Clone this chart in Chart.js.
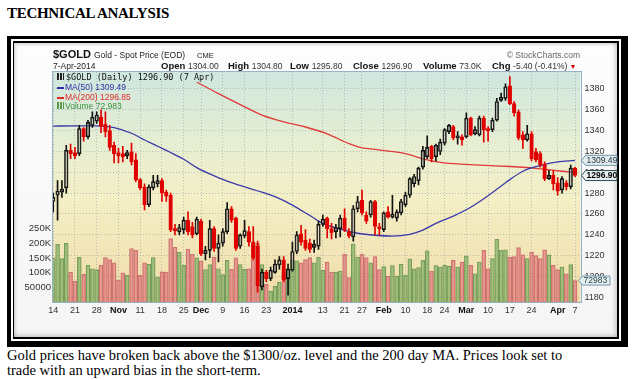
<!DOCTYPE html>
<html><head><meta charset="utf-8">
<script src="https://cdn.jsdelivr.net/npm/chart.js@4.4.1/dist/chart.umd.min.js"></script>
<style>
html,body{margin:0;padding:0;background:#fff;}
body{width:635px;height:380px;position:relative;overflow:hidden;font-family:"Liberation Sans",Arial,sans-serif;}
.abs{position:absolute;white-space:nowrap;line-height:1;}
#title{left:7px;top:5px;font:bold 15px "Liberation Serif",serif;letter-spacing:-0.3px;color:#000;}
.fr{position:absolute;}
#f1{left:7px;top:36px;width:621px;height:311px;background:#000;}
#f2{left:11px;top:39px;width:610px;height:302px;background:#fff;}
#f3{left:13px;top:41px;width:606px;height:298px;background:#000;}
#f4{left:14px;top:43px;width:603px;height:294px;background:linear-gradient(#fdfdfd,#f5f5f5);box-shadow:inset -2px -2px 4px rgba(0,0,0,0.18), inset 2px 2px 3px rgba(0,0,0,0.12);}
canvas{position:absolute;left:0;top:0;z-index:1;}
.ov{z-index:2;}
.cap{left:7px;font-size:14.5px;font-family:"Liberation Serif",serif;color:#000;}
.row{font-size:9.5px;top:61px;}
.lb{font-weight:bold;font-size:9.5px;color:#111;}
.vl{font-size:8.5px;color:#333;}
</style>
</head><body>
<div id="title" class="abs">TECHNICAL ANALYSIS</div>
<div id="f1" class="fr"></div><div id="f2" class="fr"></div><div id="f3" class="fr"></div><div id="f4" class="fr"></div>
<canvas id="c" width="635" height="380"></canvas>

<div class="abs ov" style="left:53px;top:48.5px;font-weight:bold;font-size:11px;color:#111">$GOLD</div>
<div class="abs ov" style="left:94px;top:50.5px;font-size:8.5px;color:#222">Gold - Spot Price (EOD)</div>
<div class="abs ov" style="left:197px;top:51.5px;font-size:7.5px;color:#222">CME</div>
<div class="abs ov" style="right:55px;top:51px;font-size:8.5px;color:#666">© StockCharts.com</div>
<div class="abs ov" style="left:53px;top:61.5px;font-size:8.5px;color:#222">7-Apr-2014</div>
<div class="abs ov row" style="left:161px"><span class="lb">Open</span> <span class="vl">1304.00</span></div>
<div class="abs ov row" style="left:228px"><span class="lb">High</span> <span class="vl">1304.80</span></div>
<div class="abs ov row" style="left:290px"><span class="lb">Low</span> <span class="vl">1295.80</span></div>
<div class="abs ov row" style="left:353px"><span class="lb">Close</span> <span class="vl">1296.90</span></div>
<div class="abs ov row" style="left:423px"><span class="lb">Volume</span> <span class="vl">73.0K</span></div>
<div class="abs ov row" style="left:492px"><span class="lb">Chg</span> <span class="vl">-5.40 (-0.41%)</span><span style="font-size:7px;color:#d00000"> ▼</span></div>

<div class="abs ov" style="left:57px;top:73px;font-size:8.5px;font-family:'DejaVu Sans Mono',monospace;color:#111"><span style="display:inline-block;width:7px;height:7px;margin-right:2px;background:linear-gradient(90deg,#222 0 2px,transparent 2px 3px,#222 3px 5px,transparent 5px 6px,#222 6px 7px);"></span>$GOLD (Daily) 1296.90 (7 Apr)</div>
<div class="abs ov" style="left:57px;top:83px;font-size:8.5px;color:#2f2fa8"><span style="display:inline-block;width:7px;height:2px;background:#2f2fa8;vertical-align:middle;margin-right:1px"></span>MA(50) 1309.49</div>
<div class="abs ov" style="left:57px;top:93px;font-size:8.5px;color:#e02a2a"><span style="display:inline-block;width:7px;height:2px;background:#e02a2a;vertical-align:middle;margin-right:1px"></span>MA(200) 1296.85</div>
<div class="abs ov" style="left:57px;top:102px;font-size:8.5px;color:#3f8f3f"><span style="display:inline-block;width:7px;height:7px;margin-right:1px;background:linear-gradient(90deg,#5a9a4a 0 2px,transparent 2px 3px,#5a9a4a 3px 5px,transparent 5px 6px,#5a9a4a 6px 7px);"></span>Volume 72,983</div>

<div class="abs cap" style="top:348px">Gold prices have broken back above the $1300/oz. level and the 200 day MA. Prices look set to</div>
<div class="abs cap" style="top:363px">trade with an upward bias in the short-term.</div>

<script>
const dates = ['Oct 14','Oct 15','Oct 16','Oct 17','Oct 18','Oct 21','Oct 22','Oct 23','Oct 24','Oct 25','Oct 28','Oct 29','Oct 30','Oct 31',
'Nov 1','Nov 4','Nov 5','Nov 6','Nov 7','Nov 8','Nov 11','Nov 12','Nov 13','Nov 14','Nov 15','Nov 18','Nov 19','Nov 20','Nov 21','Nov 22','Nov 25','Nov 26','Nov 27','Nov 29',
'Dec 2','Dec 3','Dec 4','Dec 5','Dec 6','Dec 9','Dec 10','Dec 11','Dec 12','Dec 13','Dec 16','Dec 17','Dec 18','Dec 19','Dec 20','Dec 23','Dec 24','Dec 26','Dec 27','Dec 30','Dec 31',
'Jan 2','Jan 3','Jan 6','Jan 7','Jan 8','Jan 9','Jan 10','Jan 13','Jan 14','Jan 15','Jan 16','Jan 17','Jan 21','Jan 22','Jan 23','Jan 24','Jan 27','Jan 28','Jan 29','Jan 30','Jan 31',
'Feb 3','Feb 4','Feb 5','Feb 6','Feb 7','Feb 10','Feb 11','Feb 12','Feb 13','Feb 14','Feb 18','Feb 19','Feb 20','Feb 21','Feb 24','Feb 25','Feb 26','Feb 27','Feb 28',
'Mar 3','Mar 4','Mar 5','Mar 6','Mar 7','Mar 10','Mar 11','Mar 12','Mar 13','Mar 14','Mar 17','Mar 18','Mar 19','Mar 20','Mar 21','Mar 24','Mar 25','Mar 26','Mar 27','Mar 28','Mar 31',
'Apr 1','Apr 2','Apr 3','Apr 4','Apr 7'];

const opens = [
1272,1278,1281,1285,1321,1319,1318,1342,1334,1345,
1349,1353,1346,1340,1326,1319,1318,1316,1320,1312,
1293,1286,1269,1285,1289,1292,1281,1278,1246,1243,
1245,1254,1248,1241,1253,1222,1225,1246,1227,1232,
1243,1265,1256,1229,1239,1243,1233,1229,1190,1204,
1198,1204,1211,1216,1198,1206,1224,1241,1235,1232,
1228,1229,1250,1256,1246,1243,1246,1256,1243,1238,
1265,1273,1259,1259,1272,1248,1245,1262,1257,1256,
1261,1269,1278,1289,1292,1305,1315,1325,1315,1320,
1328,1339,1344,1333,1334,1334,1352,1337,1336,1352,
1342,1341,1350,1369,1371,1383,1366,1358,1336,1331,
1337,1320,1318,1308,1294,1297,1290,1283,1290,1286,
1304];
const highs = [
1280,1292,1292,1326,1327,1324,1345,1343,1350,1358,
1358,1360,1358,1345,1329,1323,1325,1321,1328,1318,
1294,1289,1288,1297,1297,1294,1283,1280,1250,1250,
1257,1262,1252,1257,1255,1229,1254,1248,1240,1246,
1271,1267,1257,1241,1254,1248,1248,1234,1207,1206,
1209,1216,1219,1219,1212,1233,1243,1249,1245,1236,
1235,1253,1259,1257,1251,1250,1259,1265,1246,1268,
1277,1283,1262,1273,1273,1251,1262,1267,1278,1264,
1274,1281,1295,1298,1305,1325,1335,1326,1327,1332,
1342,1346,1345,1339,1336,1357,1353,1344,1354,1354,
1344,1352,1371,1376,1385,1392,1368,1360,1339,1345,
1339,1323,1320,1310,1302,1302,1295,1296,1292,1307,
1304.8];
const lows = [
1262,1254,1276,1280,1313,1313,1316,1330,1332,1343,
1347,1338,1334,1321,1309,1309,1310,1313,1307,1291,
1283,1264,1267,1283,1286,1272,1272,1243,1240,1240,
1241,1240,1237,1240,1220,1216,1218,1224,1214,1229,
1241,1252,1225,1227,1237,1229,1216,1185,1187,1195,
1196,1203,1207,1195,1182,1205,1222,1230,1225,1223,
1223,1226,1248,1237,1236,1237,1238,1243,1237,1234,
1262,1259,1251,1257,1240,1240,1243,1256,1256,1253,
1259,1267,1276,1286,1288,1303,1313,1310,1311,1317,
1326,1337,1331,1327,1326,1333,1335,1336,1335,1329,
1330,1339,1349,1368,1369,1365,1354,1331,1323,1330,
1311,1310,1305,1292,1293,1283,1278,1280,1283,1284,
1295.8];
const closes = [
1276,1282,1284,1321,1318,1316,1342,1334,1348,1353,
1355,1344,1339,1324,1318,1316,1315,1319,1310,1293,
1285,1269,1286,1291,1292,1280,1277,1245,1244,1247,
1254,1243,1240,1255,1222,1225,1246,1227,1232,1243,
1265,1254,1227,1240,1244,1233,1218,1191,1204,1198,
1206,1212,1216,1197,1207,1224,1240,1233,1227,1226,
1231,1250,1255,1246,1242,1247,1256,1245,1239,1265,
1272,1261,1253,1272,1248,1246,1261,1257,1260,1262,
1272,1278,1294,1296,1304,1321,1324,1313,1326,1329,
1341,1345,1333,1335,1331,1352,1336,1341,1352,1341,
1340,1350,1368,1372,1382,1366,1357,1333,1331,1337,
1313,1312,1307,1294,1297,1289,1282,1294,1286,1304,
1296.9];
const volumes = [
150000,196000,148000,200000,102000,71000,152000,94000,125000,113000,
110000,125000,151000,144000,133000,74000,99000,91000,182000,176000,
91000,133000,128000,151000,85000,103000,102000,216000,187000,170000,
125000,180000,162000,150000,140000,110000,127000,153000,113000,93000,
142000,111000,150000,127000,111000,113000,193000,200000,127000,60000,
37000,53000,68000,100000,113000,142000,140000,133000,144000,151000,
133000,153000,108000,136000,102000,102000,105000,162000,83000,198000,
153000,162000,151000,133000,155000,110000,121000,88000,124000,88000,
128000,91000,147000,113000,117000,142000,174000,105000,124000,119000,
125000,122000,142000,119000,136000,156000,125000,96000,136000,176000,
113000,148000,213000,176000,178000,153000,155000,185000,161000,148000,
170000,158000,148000,178000,161000,125000,110000,119000,96000,127000,
72983];

const ma50Idx = [0,5,10,14,18,21,24,27,30,33,36,40,44,48,51,55,59,62,66,70,74,78,82,85,88,92,96,100,104,108,112,116,120];
const ma50 = [1344.4,1344.5,1344.5,1343,1337.5,1331,1325,1319,1312.5,1304.5,1298.5,1291.5,1286,1281,1276.6,1268.5,1258.5,1251,1245.5,1241.5,1239.6,1238.8,1240.5,1244.5,1251,1258,1266.5,1277.5,1290,1301,1306.5,1310,1311.5];
const ma200Idx = [33,38,43,48,53,58,63,68,71,74,77,81,85,89,95,103,111,116,120];
const ma200 = [1386.5,1375.5,1365,1355,1348.5,1343.5,1337,1327.5,1323.5,1322,1320.4,1318,1313,1309.6,1307.6,1306,1303.8,1301.5,1300];

const xTickIdx = [0,5,10,15,20,25,30,34,39,44,49,55,62,67,71,76,81,86,90,95,100,105,110,116,120];
const xTickLabels = ['14','21','28','Nov','11','18','25','Dec','9','16','23','2014','13','21','27','Feb','10','18','24','Mar','10','17','24','Apr','7'];
const priceTicks = [1180,1200,1220,1240,1260,1280,1300,1320,1340,1360,1380];
const volTicks = [50000,100000,150000,200000,250000];
const volTickLabels = ['50000','100K','150K','200K','250K'];
const tagLabels = ['1309.49','1296.90','72983'];

Chart.defaults.font.family = '"Liberation Sans", Arial, sans-serif';

const idx = dates.map((d, i) => i);
const isUp = idx.map(i => closes[i] >= opens[i]);
const volUp = idx.map(i => i === 0 ? true : closes[i] >= closes[i - 1]);
const RED = '#e00000', BLK = '#111111';

const bgPlugin = {
  id: 'bg',
  beforeDraw(chart) {
    const { ctx, chartArea: a } = chart;
    const g = ctx.createLinearGradient(0, a.top, 0, a.bottom);
    g.addColorStop(0, '#cfe7df');
    g.addColorStop(0.3, '#e6eed2');
    g.addColorStop(0.55, '#f4efc6');
    g.addColorStop(1, '#f0dca8');
    ctx.save();
    ctx.fillStyle = g;
    ctx.fillRect(a.left, a.top, a.right - a.left, a.bottom - a.top);
    ctx.restore();
  },
  afterDatasetsDraw(chart) {
    const { ctx, chartArea: a } = chart;
    ctx.save();
    ctx.strokeStyle = 'rgba(125,160,185,0.8)';
    ctx.lineWidth = 1;
    ctx.strokeRect(Math.round(a.left) - 0.5, Math.round(a.top) - 0.5, Math.round(a.right - a.left) + 1, Math.round(a.bottom - a.top) + 1);
    ctx.restore();
  }
};

const tagPlugin = {
  id: 'tags',
  afterDraw(chart) {
    const { ctx, scales } = chart;
    const drawTag = (y, x0, x1, h, text, o) => {
      ctx.save();
      ctx.beginPath();
      ctx.moveTo(x0, y);
      ctx.lineTo(x0 + 4, y - h / 2);
      ctx.lineTo(x1, y - h / 2);
      ctx.lineTo(x1, y + h / 2);
      ctx.lineTo(x0 + 4, y + h / 2);
      ctx.closePath();
      ctx.fillStyle = o.fill; ctx.fill();
      ctx.lineWidth = 1; ctx.strokeStyle = o.stroke; ctx.stroke();
      ctx.fillStyle = o.color; ctx.font = o.font;
      ctx.textBaseline = 'middle'; ctx.textAlign = 'left';
      ctx.fillText(text, x0 + 5, y + 0.5);
      ctx.restore();
    };
    const yMa = scales.y.getPixelForValue(ma50[ma50.length - 1]);
    const yCl = scales.y.getPixelForValue(closes[closes.length - 1]);
    const yVo = scales.yv.getPixelForValue(volumes[volumes.length - 1]);
    drawTag(yMa, 581.5, 617, 10, tagLabels[0], { fill: '#e4eef0', stroke: '#6f93a8', color: '#223344', font: '8.5px "Liberation Sans", Arial' });
    drawTag(yCl, 581.5, 617, 10, tagLabels[1], { fill: '#e8f0ee', stroke: '#2d4a55', color: '#000', font: 'bold 8.5px "Liberation Sans", Arial' });
    drawTag(yVo, 578.5, 610, 9, tagLabels[2], { fill: '#e4eef0', stroke: '#6f93a8', color: '#2b4a4a', font: '8.5px "Liberation Sans", Arial' });
  }
};

const gridColor = 'rgba(110,135,160,0.45)';

new Chart(document.getElementById('c'), {
  type: 'bar',
  data: {
    datasets: [
      {
        type: 'line', label: 'MA(50)', yAxisID: 'y', order: 4,
        data: ma50Idx.map((v, k) => ({ x: v, y: ma50[k] })),
        borderColor: '#3a3aa8', borderWidth: 1.3, pointRadius: 0, tension: 0.4, cubicInterpolationMode: 'monotone', fill: false
      },
      {
        type: 'line', label: 'MA(200)', yAxisID: 'y', order: 4,
        data: ma200Idx.map((v, k) => ({ x: v, y: ma200[k] })),
        borderColor: '#e03a3a', borderWidth: 1.3, pointRadius: 0, tension: 0.4, cubicInterpolationMode: 'monotone', fill: false
      },
      {
        label: 'Volume', yAxisID: 'yv', order: 10, grouped: false,
        data: idx.map(i => ({ x: i, y: volumes[i] })),
        backgroundColor: idx.map(i => volUp[i] ? 'rgba(118,170,92,0.62)' : 'rgba(220,105,115,0.58)'),
        borderColor: idx.map(i => volUp[i] ? 'rgba(80,130,65,0.75)' : 'rgba(185,75,85,0.7)'),
        borderWidth: 0.6, borderSkipped: 'bottom',
        maxBarThickness: 3.9, barPercentage: 1, categoryPercentage: 1
      },
      {
        label: 'LowerWick', yAxisID: 'y', order: 3, grouped: false,
        data: idx.map(i => ({ x: i, y: [lows[i], Math.min(opens[i], closes[i])] })),
        backgroundColor: idx.map(i => isUp[i] ? BLK : RED),
        borderWidth: 0, maxBarThickness: 1, barPercentage: 1, categoryPercentage: 1
      },
      {
        label: 'UpperWick', yAxisID: 'y', order: 3, grouped: false,
        data: idx.map(i => ({ x: i, y: [Math.max(opens[i], closes[i]), highs[i]] })),
        backgroundColor: idx.map(i => isUp[i] ? BLK : RED),
        borderWidth: 0, maxBarThickness: 1, barPercentage: 1, categoryPercentage: 1
      },
      {
        label: 'Body', yAxisID: 'y', order: 2, grouped: false,
        data: idx.map(i => ({ x: i, y: [opens[i], closes[i]] })),
        backgroundColor: idx.map(i => isUp[i] ? 'rgba(255,255,255,0.15)' : RED),
        borderColor: idx.map(i => isUp[i] ? BLK : RED),
        borderWidth: 1, borderSkipped: false,
        maxBarThickness: 3.6, barPercentage: 1, categoryPercentage: 1
      }
    ]
  },
  options: {
    responsive: false, devicePixelRatio: 1, animation: false,
    layout: { padding: { top: 72, left: 0, right: 0, bottom: 0 } },
    plugins: { legend: { display: false }, tooltip: { enabled: false } },
    scales: {
      x: {
        type: 'linear', min: -0.05, max: 121.25, offset: false,
        afterBuildTicks: s => { s.ticks = xTickIdx.map(v => ({ value: v })); },
        afterFit: s => { s.height = 78; },
        ticks: {
          autoSkip: false, maxRotation: 0, minRotation: 0, padding: 3,
          callback: (v, i) => xTickLabels[i],
          font: c => ({ size: 9, weight: (xTickLabels[c.index] || '').length > 2 ? 'bold' : 'normal' }),
          color: c => (xTickLabels[c.index] || '').length > 2 ? '#111' : '#333'
        },
        grid: { color: gridColor, drawTicks: false, offset: false, lineWidth: 1 },
        border: { display: false, dash: [1, 2] }
      },
      y: {
        type: 'linear', position: 'right', min: 1175.5, max: 1396.3,
        afterBuildTicks: s => { s.ticks = priceTicks.map(v => ({ value: v })); },
        afterFit: s => { s.width = 54.5; },
        ticks: { padding: 4, font: { size: 9 }, color: '#333', callback: v => String(v) },
        grid: { color: gridColor, drawTicks: false, lineWidth: 1 },
        border: { display: false, dash: [1, 2] }
      },
      yv: {
        type: 'linear', position: 'left', min: 0, max: 783000,
        afterBuildTicks: s => { s.ticks = volTicks.map(v => ({ value: v })); },
        afterFit: s => { s.width = 53; },
        ticks: { padding: 2, font: { size: 9.5 }, color: '#333', callback: (v, i) => volTickLabels[i] },
        grid: { display: false, drawTicks: false },
        border: { display: false }
      }
    }
  },
  plugins: [bgPlugin, tagPlugin]
});
</script>
</body></html>
